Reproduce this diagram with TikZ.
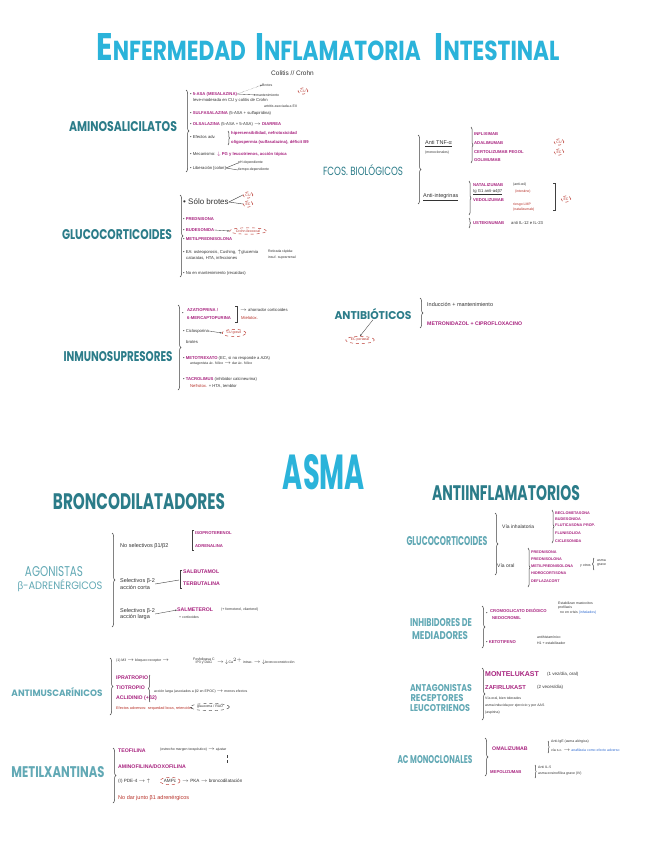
\documentclass[tikz,border=0pt]{standalone}
\usepackage{fontspec}
\usepackage{graphicx}
\setmainfont{Liberation Sans}
\newfontfamily\hf{Poppins}
\newfontfamily\gk{Liberation Sans}
\usetikzlibrary{arrows.meta,decorations.pathreplacing,shapes.geometric}
\definecolor{cyc}{HTML}{2BB3DA}
\definecolor{tlc}{HTML}{2B7C89}
\definecolor{ltc}{HTML}{62A9B5}
\definecolor{pkc}{HTML}{A8237F}
\definecolor{rdc}{HTML}{B8322A}
\definecolor{blc}{HTML}{2F6BD1}
\newcommand{\pkx}[1]{\textcolor{pkc}{\bfseries #1}}
\newcommand{\rdx}[1]{\textcolor{rdc}{#1}}
\tikzset{
 tx/.style={anchor=west,inner sep=0pt,font=\fontsize{4.2}{5}\selectfont,text=black!80},
 sm/.style={tx,font=\fontsize{3.5}{4}\selectfont},
 md/.style={tx,font=\fontsize{5.5}{6.5}\selectfont},
 pk/.style={tx,text=pkc,font=\bfseries\fontsize{4.2}{5}\selectfont},
 pkm/.style={tx,text=pkc,font=\bfseries\fontsize{5.2}{6}\selectfont},
 rd/.style={tx,text=rdc},
 hd/.style={inner sep=0pt,text=tlc,font=\hf\bfseries},
 lh/.style={inner sep=0pt,text=ltc,font=\hf\bfseries},
 brc/.style={decorate,decoration={brace,amplitude=#1},line width=0.5pt,draw=black!75},
 brc/.default=3pt,
 rcirc/.style={ellipse,draw=rdc,dashed,line width=0.45pt,inner sep=1pt,text=rdc,font=\fontsize{3.5}{4}\selectfont},
 ar/.style={-{Stealth[length=2pt]},line width=0.35pt,draw=black!75},
 ln/.style={line width=0.4pt,draw=black!75},
}
\begin{document}
\begin{tikzpicture}[x=1pt,y=-1pt]
\fill[white] (0,0) rectangle (655,848);
\path[use as bounding box] (0,0) rectangle (655,848);

% ================= EII =================
\node[inner sep=0pt,text=cyc,font=\hf\bfseries] (tit) at (328,47) {\resizebox{463pt}{27pt}{\fontsize{14}{14}\selectfont E\fontsize{10}{10}\selectfont NFERMEDAD\ \ \fontsize{14}{14}\selectfont I\fontsize{10}{10}\selectfont NFLAMATORIA\ \ \ \fontsize{14}{14}\selectfont I\fontsize{10}{10}\selectfont NTESTINAL}};
\node[tx,font=\fontsize{6.5}{7}\selectfont] (sub) at (271,73) {Colitis // Crohn};

% Aminosalicilatos
\node[hd] (amino) at (123,127) {\resizebox{108pt}{10pt}{AMINOSALICILATOS}};
\draw[brc] (186,90) -- (186,172);
\node[tx] (a1) at (190,94) {• \pkx{5-ASA (MESALAZINA)}};
\node[tx] (a1b) at (193,100) {leve-moderada en CU y colitis de Crohn};
\node[sm] (a1c) at (262,85) {Brotes};
\node[sm] (a1d) at (256,95) {mantenimiento};
\draw[ar,densely dotted] (a1.east) -- (a1c.west);
\draw[ar] (a1.east) -- (a1d.west);
\node[rcirc] (cu1) at (303,91) {CU};
\node[tx] (a2) at (190,113) {• \pkx{SULFASALAZINA} (5-ASA + sulfapiridina)};
\node[sm] (a2b) at (264,106) {artritis asociada a EII};
\node[tx] (a3) at (190,124) {• \pkx{OLSALAZINA} (5-ASA + 5-ASA) $\rightarrow$ \pkx{DIARREA}};
\node[tx] (a4) at (190,137) {• Efectos adv.};
\draw[brc=1.5pt] (228,131) -- (228,145);
\node[pk] (a4b) at (231,133) {hipersensibilidad, nefrotoxicidad};
\node[pk] (a4c) at (231,142) {oligospermia (sulfasalazina), déficit B9};
\node[tx] (a5) at (190,154) {• Mecanismo: \pkx{$\downarrow$ PG y leucotrienos, acción tópica}};
\node[tx] (a6) at (190,168) {• Liberación [colon]};
\node[sm] (a6b) at (238,163) {pH dependiente};
\node[sm] (a6c) at (238,170) {tiempo-dependiente};
\draw[ln] (a6.east) -- (a6b.west);
\draw[ln] (a6.east) -- (a6c.west);

% Glucocorticoides EII
\node[hd] (gcE) at (117,235) {\resizebox{110pt}{10pt}{GLUCOCORTICOIDES}};
\draw[brc] (180,195) -- (180,277);
\node[tx,font=\fontsize{8}{9}\selectfont] (g1) at (183,202) {• Sólo brotes};
\node[rcirc] (g1a) at (248,195) {CU};
\node[rcirc] (g1b) at (248,204) {EC};
\draw[ln] (g1.east) -- (g1a.west);
\draw[ln] (g1.east) -- (g1b.west);
\node[tx] (g2) at (183,219) {• \pkx{PREDNISONA}};
\node[tx] (g3) at (183,230) {• \pkx{BUDESONIDA}};
\node[rcirc] (g3a) at (248,231) {Crohn ileocecal};
\draw[ar] (g3.east) -- (g3a.west);
\node[tx] (g4) at (183,239) {• \pkx{METILPREDNISOLONA}};
\node[tx] (g5) at (183,252) {• EA: osteoporosis, Cushing, $\uparrow$glucemia};
\node[tx] (g5b) at (186,258) {cataratas, HTA, infecciones};
\node[sm] (g5c) at (268,252) {Retirada rápida:};
\node[sm] (g5d) at (268,258) {insuf. suprarrenal};
\node[tx] (g6) at (183,273) {• No en mantenimiento (recaídas)};

% Inmunosupresores
\node[hd] (inm) at (118,357) {\resizebox{109pt}{10pt}{INMUNOSUPRESORES}};
\draw[brc] (178,305) -- (178,390);
\node[tx] (i1) at (182,314) {•};
\node[pk] (i1a) at (187,310) {AZATIOPRINA /};
\node[pk] (i1b) at (187,318) {6-MERCAPTOPURINA};
\draw[ln] (235,306) -- (237,306) -- (237,322) -- (235,322);
\node[tx] (i1c) at (240,310) {$\rightarrow$ ahorrador corticoides};
\node[rd] (i1d) at (241,318) {Mielotox.};
\node[tx] (i2) at (183,331) {• Ciclosporina};
\node[tx] (i2b) at (186,342) {brotes};
\node[rcirc] (i2c) at (234,333) {CU grave};
\draw[ar] (i2.east) -- (i2c.west);
\node[tx] (i3) at (183,358) {• \pkx{METOTREXATO} (EC, si no responde a AZA)};
\node[sm] (i3b) at (190,364) {antagonista ác. fólico $\rightarrow$ dar ác. fólico};
\node[tx] (i4) at (183,379) {• \pkx{TACROLIMUS} (inhibidor calcineurina)};
\node[tx] (i4b) at (190,386) {\rdx{Nefrotox.} + HTA, temblor};

% Fcos biologicos
\node[inner sep=0pt,text=tlc,font=\hf] (bio) at (363,170) {\resizebox{80pt}{11pt}{FCOS. BIOLÓGICOS}};
\draw[brc] (418,135) -- (418,204);
\node[md] (tnf) at (425,144) {\underline{Anti TNF-α}};
\node[sm] (tnfb) at (425,153) {(monoclonales)};
\draw[brc=2pt] (471,127) -- (471,163);
\node[pk] (b1) at (474,134) {INFLIXIMAB};
\node[pk] (b2) at (474,143) {ADALIMUMAB};
\node[pk] (b3) at (474,152) {CERTOLIZUMAB PEGOL};
\node[pk] (b4) at (474,160) {GOLIMUMAB};
\node[rcirc] (bcu) at (559,142) {CU};
\node[rcirc] (bec) at (559,152) {EC};
\node[md] (int) at (423,197) {\underline{Anti-integrinas}};
\draw[brc=2pt] (469,181) -- (469,215);
\node[pk] (b5) at (473,185) {NATALIZUMAB};
\node[sm] (b5b) at (513,185) {(anti-α4)};
\node[tx] (b6) at (473,192) {\underline{Ig G1 anti-α4β7}};
\node[sm,text=rdc] (b6b) at (515,192) {(intestino)};
\node[pk] (b7) at (473,200) {VEDOLIZUMAB};
\node[sm,text=rdc] (b7b) at (513,205) {riesgo LMP};
\node[sm,text=rdc] (b7c) at (513,210) {(natalizumab)};
\draw[ln] (553,183) -- (555,183) -- (555,210) -- (553,210);
\node[rcirc] (bec2) at (566,199) {EC};
\draw[brc=1.5pt] (469,218) -- (469,228);
\node[pk] (b8) at (473,223) {USTEKINUMAB};
\node[tx] (b8b) at (511,223) {anti IL-12 e IL-23};

% Antibioticos
\node[hd] (abx) at (373,314) {\resizebox{77pt}{11pt}{ANTIBIÓTICOS}};
\draw[brc] (420,298) -- (420,328);
\node[md] (ab1) at (427,304) {Inducción + mantenimiento};
\node[pkm] (ab2) at (427,324) {METRONIDAZOL + CIPROFLOXACINO};
\node[rcirc] (abe) at (360,340) {EC perianal};
\draw[ar] (abx.south) -- (abe.north);

% ================= ASMA =================
\node[inner sep=0pt,text=cyc,font=\hf\bfseries] (asma) at (324,472) {\resizebox{82pt}{35pt}{ASMA}};

% Broncodilatadores
\node[hd] (bron) at (139,502) {\resizebox{172pt}{16pt}{BRONCODILATADORES}};
\node[lh,font=\hf] (ago1) at (54,572) {\resizebox{58pt}{10pt}{AGONISTAS}};
\node[lh,font=\hf] (ago2) at (60,586) {\resizebox{85pt}{10pt}{{\gk β}-ADRENÉRGICOS}};
\draw[brc] (112,533) -- (112,627);
\node[md] (nb) at (120,546) {No selectivos β1/β2};
\draw[ln] (194,530) -- (192,530) -- (192,550) -- (194,550);
\node[pk] (nb1) at (195,533) {ISOPROTERENOL};
\node[pk] (nb2) at (195,546) {ADRENALINA};
\node[md,align=left] (sc) at (120,584) {Selectivos β-2\\acción corta};
\draw[ln] (sc.east) -- (179,580);
\draw[ln] (182,570) -- (180,570) -- (180,588) -- (182,588);
\node[pkm] (sc1) at (183,572) {SALBUTAMOL};
\node[pkm] (sc2) at (183,584) {TERBUTALINA};
\node[md,align=left] (sl) at (120,614) {Selectivos β-2\\acción larga};
\node[pkm] (sl1) at (177,610) {SALMETEROL};
\draw[ar] (sl.east) -- (sl1.west);
\node[sm] (sl2) at (221,610) {(+ formoterol, vilanterol)};
\node[sm] (sl3) at (179,617) {+ corticoides};

% Antimuscarinicos
\node[lh] (amus) at (57,692) {\resizebox{91pt}{9pt}{ANTIMUSCARÍNICOS}};
\draw[brc] (110,658) -- (110,715);
\node[sm] (m1) at (116,661) {(1) M3 $\rightarrow$ bloqueo receptor $\rightarrow$};
\node[sm,align=center] (m1b) at (193,661) {Fosfolipasa C\\[-0.5pt]IP3 y DAG};
\node[sm] (m1c) at (217,661) {$\rightarrow$ $\downarrow$Ca$^{2+}$ intrac. $\rightarrow$ $\downarrow$broncoconstricción};
\node[pkm] (m2) at (116,678) {IPRATROPIO};
\node[pkm] (m3) at (116,688) {TIOTROPIO};
\node[pkm] (m4) at (116,698) {ACLIDINIO (+β2)};
\draw[brc=1.5pt] (150,702) -- (150,675);
\node[sm] (m5) at (154,692) {acción larga (asociados a β2 en EPOC) $\rightarrow$ menos efectos};
\node[rd,font=\fontsize{3.8}{4.5}\selectfont] (m6) at (116,708) {Efectos adversos: sequedad boca, retención};
\node[rcirc,draw=black!70,text=black!80] (m7) at (210,707) {glaucoma / RAO};
\draw[ar] (m6.east) -- (m7.west);

% Metilxantinas
\node[lh] (mx) at (58,772) {\resizebox{93pt}{11pt}{METILXANTINAS}};
\draw[brc] (113,748) -- (113,803);
\node[pkm] (x1) at (118,751) {TEOFILINA};
\node[sm] (x1b) at (160,750) {(estrecho margen terapéutico) $\rightarrow$ ajustar};
\coordinate (x1c) at (227,755);
\coordinate (x1d) at (227,763);
\draw[ln,densely dashed] (x1c) -- (x1d);
\node[pkm] (x2) at (118,767) {AMINOFILINA/DOXOFILINA};
\node[tx,font=\fontsize{4.6}{5}\selectfont] (x3) at (118,781) {(I) PDE-4 $\rightarrow$ $\uparrow$};
\node[rcirc,draw=rdc,text=black!80,font=\fontsize{4.6}{5}\selectfont] (x3b) at (170,781) {AMPc};
\node[tx,font=\fontsize{4.6}{5}\selectfont] (x3c) at (182,781) {$\rightarrow$ PKA $\rightarrow$ broncodilatación};
\node[rd,font=\fontsize{5.5}{6}\selectfont] (x4) at (118,798) {No dar junto β1 adrenérgicos};

% Antiinflamatorios
\node[hd] (anti) at (506,493) {\resizebox{148pt}{15pt}{ANTIINFLAMATORIOS}};
\node[lh] (gcA) at (447,541) {\resizebox{81pt}{9pt}{GLUCOCORTICOIDES}};
\draw[brc] (495,513) -- (495,575);
\node[tx,font=\fontsize{5}{6}\selectfont] (vi) at (502,527) {Vía inhalatoria};
\draw[brc=2pt] (552,510) -- (552,543);
\node[pk,font=\bfseries\fontsize{3.8}{4}\selectfont] (vi1) at (555,513) {BECLOMETASONA};
\node[pk,font=\bfseries\fontsize{3.8}{4}\selectfont] (vi2) at (555,519) {BUDESONIDA};
\node[pk,font=\bfseries\fontsize{3.8}{4}\selectfont] (vi3) at (555,525) {FLUTICASONA PROP.};
\node[pk,font=\bfseries\fontsize{3.8}{4}\selectfont] (vi4) at (555,533) {FLUNISOLIDA};
\node[pk,font=\bfseries\fontsize{3.8}{4}\selectfont] (vi5) at (555,541) {CICLESONIDA};
\node[tx,font=\fontsize{5}{6}\selectfont] (vo) at (497,566) {Vía oral};
\draw[brc=2pt] (528,548) -- (528,587);
\node[pk,font=\bfseries\fontsize{3.8}{4}\selectfont] (vo1) at (531,552) {PREDNISONA};
\node[pk,font=\bfseries\fontsize{3.8}{4}\selectfont] (vo2) at (531,559) {PREDNISOLONA};
\node[pk,font=\bfseries\fontsize{3.8}{4}\selectfont] (vo3) at (531,566) {METILPREDNISOLONA};
\node[pk,font=\bfseries\fontsize{3.8}{4}\selectfont] (vo4) at (531,573) {HIDROCORTISONA};
\node[pk,font=\bfseries\fontsize{3.8}{4}\selectfont] (vo5) at (531,581) {DEFLAZACORT};
\node[sm] (vo6) at (580,566) {y otros};
\draw[brc=1.5pt] (594,570) -- (594,558);
\node[sm,align=left] (vo7) at (597,563) {asma\\grave};

% Inhibidores de mediadores
\node[lh] (inh1) at (441,623) {\resizebox{62pt}{8pt}{INHIBIDORES DE}};
\node[lh] (inh2) at (440,636) {\resizebox{56pt}{8pt}{MEDIADORES}};
\draw[brc] (482,606) -- (482,648);
\node[tx] (ih0) at (486,614) {•};
\node[pk] (ih1) at (490,611) {CROMOGLICATO DISÓDICO};
\node[pk] (ih2) at (492,618) {NEDOCROMIL};
\node[sm] (ih3) at (558,603) {Estabilizan mastocitos};
\node[sm] (ih4) at (558,608) {profilaxis};
\node[sm] (ih5) at (560,613) {no en crisis \textcolor{blc}{(inhalados)}};
\node[tx] (ih6) at (486,642) {• \pkx{KETOTIFENO}};
\node[sm] (ih7) at (537,637) {antihistamínico};
\node[sm] (ih8) at (537,643) {H1 + estabilizador};

% Antagonistas leucotrienos
\node[lh] (lt1) at (441,688) {\resizebox{62pt}{7pt}{ANTAGONISTAS}};
\node[lh] (lt2) at (437,698) {\resizebox{53pt}{7pt}{RECEPTORES}};
\node[lh] (lt3) at (440,708) {\resizebox{60pt}{7pt}{LEUCOTRIENOS}};
\draw[brc] (482,668) -- (482,720);
\node[pk,font=\bfseries\fontsize{7}{8}\selectfont] (lk1) at (485,674) {MONTELUKAST};
\node[tx,font=\fontsize{4.5}{5}\selectfont] (lk1b) at (547,674) {(1 vez/día, oral)};
\node[pk,font=\bfseries\fontsize{5.8}{7}\selectfont] (lk2) at (485,687) {ZAFIRLUKAST};
\node[tx,font=\fontsize{4.5}{5}\selectfont] (lk2b) at (537,687) {(2 veces/día)};
\node[sm] (lk3) at (485,698) {Vía oral, bien tolerados};
\node[sm] (lk4) at (485,706) {asma inducida por ejercicio y por AAS};
\node[sm] (lk5) at (485,713) {(aspirina)};

% Ac monoclonales
\node[lh] (ac) at (435,760) {\resizebox{75pt}{8pt}{AC MONOCLONALES}};
\draw[brc] (485,738) -- (485,776);
\node[pkm] (om) at (492,749) {OMALIZUMAB};
\draw[brc=1.2pt] (548,741) -- (548,753);
\node[sm] (om1) at (551,742) {Anti-IgE (asma alérgica)};
\node[sm] (om2) at (551,750) {vía s.c. $\rightarrow$ \textcolor{blc}{anafilaxia como efecto adverso}};
\node[pk] (me) at (490,772) {MEPOLIZUMAB};
\draw[brc=1.2pt] (535,765) -- (535,778);
\node[sm] (me1) at (538,767) {Anti IL-5};
\node[sm] (me2) at (538,774) {asma eosinofílica grave (IV)};
\end{tikzpicture}
\end{document}
